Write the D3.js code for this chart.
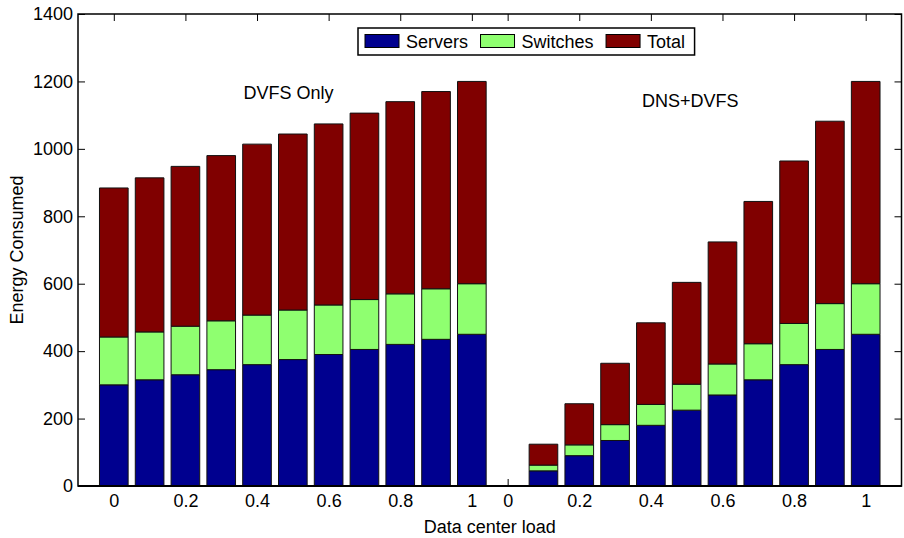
<!DOCTYPE html>
<html>
<head>
<meta charset="utf-8">
<script src="https://cdn.jsdelivr.net/npm/d3@7"></script>
<style>
    body { margin: 0; background: #fff; }
    svg { display: block; font-family: "Liberation Sans", Arial, sans-serif; }
</style>
</head>
<body>
<div id="viz"></div>
<script>
// data
var loads = [0, 0.1, 0.2, 0.3, 0.4, 0.5, 0.6, 0.7, 0.8, 0.9, 1];
var tickLabels = ["0", "0.2", "0.4", "0.6", "0.8", "1"];
var seriesNames = ["Servers", "Switches", "Total"];

var dvfsServers = [300, 315, 330, 345, 360, 375, 390, 405, 420, 435, 450];
var dvfsSwitches = [142, 142, 144, 145, 147, 147, 147, 148, 150, 150, 150];
var dvfsTotal = [442, 457, 474, 490, 507, 522, 537, 553, 570, 585, 600];

var dnsServers = [0, 45, 90, 135, 180, 225, 270, 315, 360, 405, 450];
var dnsSwitches = [0, 17, 32, 47, 62, 77, 92, 107, 122, 136, 150];
var dnsTotal = [0, 62, 122, 182, 242, 302, 362, 422, 482, 541, 600];

var groupLabels = ["DVFS Only", "DNS+DVFS"];

var colors = ["#00008f", "#8fff70", "#800000"];

var width = 904, height = 538;
var margin = { top: 14, right: 2.5, bottom: 52, left: 78 };

var svg = d3.select("#viz").append("svg")
    .attr("width", width)
    .attr("height", height);

// bar positions 1..22 like matlab bar(), xlim [0 23]
var rows = [];
loads.forEach(function (l, i) {
    rows.push({ pos: i + 1, Servers: dvfsServers[i], Switches: dvfsSwitches[i], Total: dvfsTotal[i] });
});
loads.forEach(function (l, i) {
    rows.push({ pos: loads.length + i + 1, Servers: dnsServers[i], Switches: dnsSwitches[i], Total: dnsTotal[i] });
});

var x = d3.scaleLinear()
    .domain([0, rows.length + 1])
    .range([margin.left, width - margin.right]);
var y = d3.scaleLinear()
    .domain([0, 1400])
    .range([height - margin.bottom, margin.top]);

var x0 = x.range()[0], x1 = x.range()[1];
var y0 = y.range()[0], y1 = y.range()[1];

// tick positions: every other bar in each group
var tickPos = [];
var tickText = {};
tickLabels.forEach(function (t, i) {
    tickPos.push(1 + 2 * i);
    tickText[1 + 2 * i] = t;
});
tickLabels.forEach(function (t, i) {
    var p = loads.length + 1 + 2 * i;
    tickPos.push(p);
    tickText[p] = t;
});

var tickLen = 7;

// axes (under the bars, like matlab layer bottom)
var gx = svg.append("g")
    .attr("transform", "translate(0," + y0 + ")")
    .call(d3.axisBottom(x).tickValues(tickPos).tickSizeInner(-tickLen).tickSizeOuter(0).tickPadding(8)
        .tickFormat(function (d) { return tickText[d]; }));
var gxt = svg.append("g")
    .attr("transform", "translate(0," + y1 + ")")
    .call(d3.axisTop(x).tickValues(tickPos).tickSizeInner(-tickLen).tickSizeOuter(0).tickFormat(""));
var gy = svg.append("g")
    .attr("transform", "translate(" + x0 + ",0)")
    .call(d3.axisLeft(y).ticks(7).tickSizeInner(-tickLen).tickSizeOuter(0).tickPadding(5)
        .tickFormat(d3.format("d")));
var gyr = svg.append("g")
    .attr("transform", "translate(" + x1 + ",0)")
    .call(d3.axisRight(y).ticks(7).tickSizeInner(-tickLen).tickSizeOuter(0).tickFormat(""));

[gx, gxt, gy, gyr].forEach(function (g) {
    g.select(".domain").remove();
    g.selectAll("line").attr("stroke", "#000").attr("stroke-width", 1);
    g.selectAll("text").attr("fill", "#000").style("font-size", "18px")
        .style("font-family", '"Liberation Sans", Arial, sans-serif');
});

svg.append("rect")
    .attr("x", x0)
    .attr("y", y1)
    .attr("width", x1 - x0)
    .attr("height", y0 - y1)
    .attr("fill", "none")
    .attr("stroke", "#000")
    .attr("stroke-width", 1.5);

// stacked bars
var stack = d3.stack().keys(seriesNames);
var layers = stack(rows);
var barW = 0.8;

var gBars = svg.append("g");
layers.forEach(function (layer, k) {
    gBars.selectAll(".bar-" + k)
        .data(layer)
        .enter().append("path")
        .attr("class", "bar-" + k)
        .attr("d", function (d) {
            var xa = x(d.data.pos - barW / 2), xb = x(d.data.pos + barW / 2);
            var ya = y(d[0]), yb = y(d[1]);
            return "M" + xa + "," + ya + "H" + xb + "V" + yb + "H" + xa + "Z";
        })
        .attr("fill", colors[k])
        .attr("stroke", "#111")
        .attr("stroke-width", 1);
});

// bottom axis line on top of the bars
svg.append("line")
    .attr("x1", x0).attr("x2", x1)
    .attr("y1", y0).attr("y2", y0)
    .attr("stroke", "#000")
    .attr("stroke-width", 2);

// group labels
svg.append("text")
    .attr("x", x(4.62))
    .attr("y", y(1147))
    .style("font-size", "18px")
    .text(groupLabels[0]);
svg.append("text")
    .attr("x", x(15.75))
    .attr("y", y(1123))
    .style("font-size", "18px")
    .text(groupLabels[1]);

// axis titles
svg.append("text")
    .attr("x", (x0 + x1) / 2)
    .attr("y", 533)
    .attr("text-anchor", "middle")
    .style("font-size", "18px")
    .text("Data center load");
svg.append("text")
    .attr("transform", "translate(23," + ((y0 + y1) / 2) + ") rotate(-90)")
    .attr("text-anchor", "middle")
    .style("font-size", "18px")
    .text("Energy Consumed");

// legend
var legend = svg.append("g");
var legBox = legend.append("rect")
    .attr("x", 358)
    .attr("y", 28)
    .attr("height", 27)
    .attr("fill", "#fff")
    .attr("stroke", "#000")
    .attr("stroke-width", 1.5);

var lx = 365;
seriesNames.forEach(function (name, k) {
    legend.append("rect")
        .attr("x", lx)
        .attr("y", 34.5)
        .attr("width", 34)
        .attr("height", 13)
        .attr("fill", colors[k])
        .attr("stroke", "#000")
        .attr("stroke-width", 1);
    var t = legend.append("text")
        .attr("x", lx + 41)
        .attr("y", 48)
        .style("font-size", "18px")
        .text(name);
    lx = lx + 41 + t.node().getComputedTextLength() + 12.5;
});
legBox.attr("width", lx - 358 - 3);
</script>
</body>
</html>
